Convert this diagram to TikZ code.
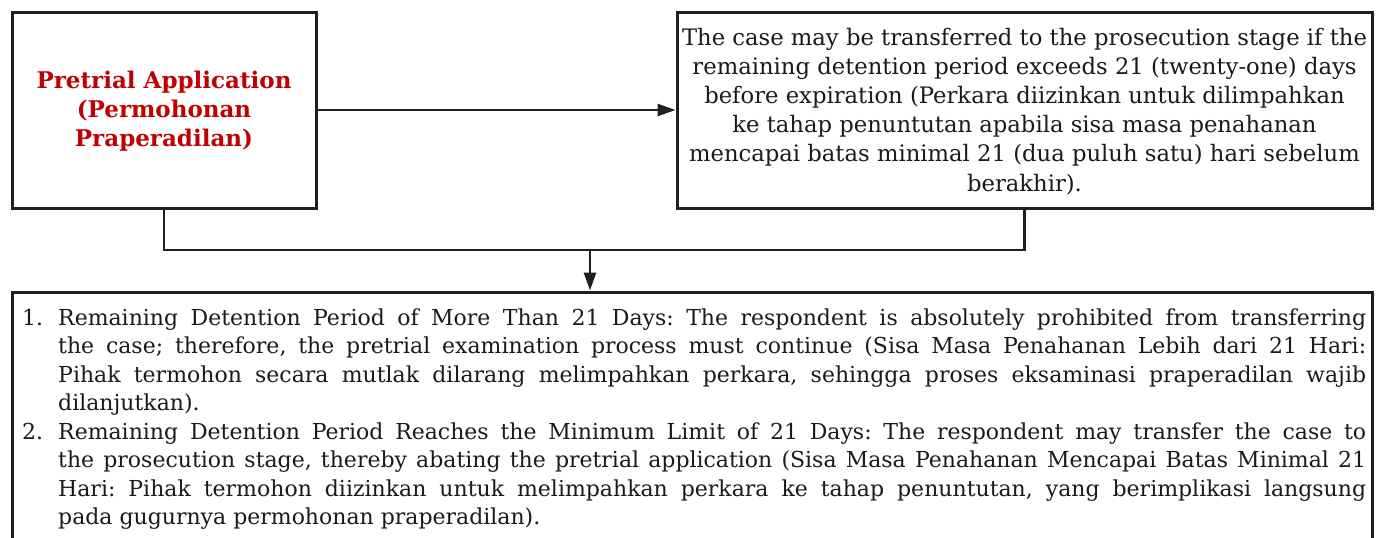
\documentclass[tikz,border=0pt]{standalone}
\usepackage{fontspec}
\setmainfont{DejaVu Serif}
\usetikzlibrary{arrows.meta}
\definecolor{linec}{HTML}{231F20}
\definecolor{redt}{HTML}{C00000}
\definecolor{textc}{HTML}{1A1A1A}
\tikzset{
  box/.style={draw=linec, line width=3pt, rectangle, inner sep=0pt},
  conn/.style={draw=linec, line width=2.6pt, line join=miter},
  arr/.style={conn, -{Triangle[length=18pt, width=12pt]}},
  txt/.style={inner sep=0pt, text=textc},
}
\newcommand{\itm}[2]{\makebox[36pt][l]{#1}\makebox[1308pt][s]{#2}}
\newcommand{\itmlast}[2]{\makebox[36pt][l]{#1}\makebox[1308pt][l]{#2}}
\begin{document}
\frenchspacing
\begin{tikzpicture}[x=1pt, y=-1pt]
\useasboundingbox (0,0) rectangle (1384,538);
% boxes
\node[box, minimum width=304pt, minimum height=196pt] (b1) at (164,110) {};
\node[box, minimum width=695pt, minimum height=196pt] (b2) at (1024.5,110) {};
\node[box, minimum width=1360pt, minimum height=280pt] (b3) at (692,432) {};
% box 1 text
\node[txt, anchor=base, text=redt] (t1) at (164,88) {\parbox[t]{300pt}{\centering\fontsize{23pt}{29pt}\selectfont\bfseries
Pretrial Application\\(Permohonan\\Praperadilan)}};
% box 2 text
\node[txt, anchor=base] (t2) at (1024.5,45) {\parbox[t]{690pt}{\centering\fontsize{22.7pt}{29.2pt}\selectfont\frenchspacing
The case may be transferred to the prosecution stage if the\\
remaining detention period exceeds 21 (twenty-one) days\\
before expiration (Perkara diizinkan untuk dilimpahkan\\
ke tahap penuntutan apabila sisa masa penahanan\\
mencapai batas minimal 21 (dua puluh satu) hari sebelum\\
berakhir).}};
% box 3 text
\node[txt, anchor=base west] (t3) at (22,325) {\parbox[t]{1344pt}{\fontsize{22pt}{28.57pt}\selectfont\lineskiplimit=-20pt\frenchspacing
\itm{1.}{Remaining Detention Period of More Than 21 Days: The respondent is absolutely prohibited from transferring}\\
\itm{}{the case; therefore, the pretrial examination process must continue (Sisa Masa Penahanan Lebih dari 21 Hari:}\\
\itm{}{Pihak termohon secara mutlak dilarang melimpahkan perkara, sehingga proses eksaminasi praperadilan wajib}\\
\itmlast{}{dilanjutkan).}\\
\itm{2.}{Remaining Detention Period Reaches the Minimum Limit of 21 Days: The respondent may transfer the case to}\\
\itm{}{the prosecution stage, thereby abating the pretrial application (Sisa Masa Penahanan Mencapai Batas Minimal 21}\\
\itm{}{Hari: Pihak termohon diizinkan untuk melimpahkan perkara ke tahap penuntutan, yang berimplikasi langsung}\\
\itmlast{}{pada gugurnya permohonan praperadilan).}}};
% connectors
\draw[arr] (b1.east) -- (b2.west);
\coordinate (j1) at (b1.south |- 0,250);
\coordinate (j2) at (b2.south |- 0,250);
\coordinate (jm) at (590,250);
\draw[conn] (b1.south) -- (j1) -- (j2) -- (b2.south);
\draw[arr] (jm) -- (jm |- b3.north);
\end{tikzpicture}
\end{document}
